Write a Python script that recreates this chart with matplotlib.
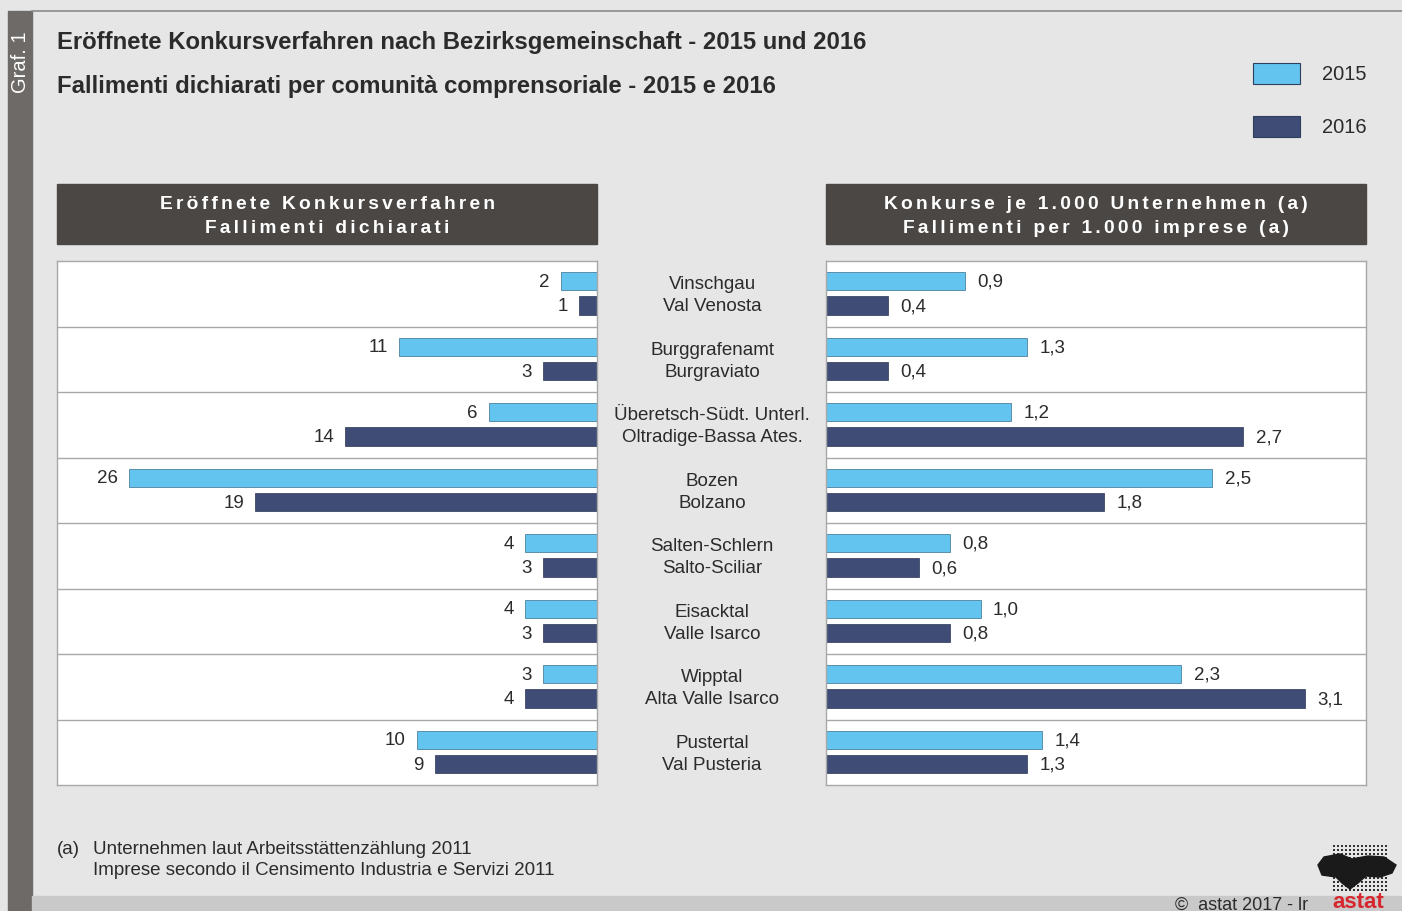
import matplotlib
matplotlib.use("Agg")
import matplotlib.pyplot as plt
from matplotlib.patches import Rectangle, Polygon
import numpy as np

plt.rcParams['font.family'] = ['Liberation Sans', 'DejaVu Sans']

# data
regions_de = ["Vinschgau", "Burggrafenamt", "Überetsch-Südt. Unterl.", "Bozen",
              "Salten-Schlern", "Eisacktal", "Wipptal", "Pustertal"]
regions_it = ["Val Venosta", "Burgraviato", "Oltradige-Bassa Ates.", "Bolzano",
              "Salto-Sciliar", "Valle Isarco", "Alta Valle Isarco", "Val Pusteria"]
fall_2015 = [2, 11, 6, 26, 4, 4, 3, 10]
fall_2016 = [1, 3, 14, 19, 3, 3, 4, 9]
rate_2015 = [0.9, 1.3, 1.2, 2.5, 0.8, 1.0, 2.3, 1.4]
rate_2016 = [0.4, 0.4, 2.7, 1.8, 0.6, 0.8, 3.1, 1.3]
years = ["2015", "2016"]

c15 = "#62c4ef"
c16 = "#3e4c76"
bgc = "#e6e6e6"
txt = "#2b2b2b"

W, H = 1402, 912
fig = plt.figure(figsize=(W / 100, H / 100), dpi=100, facecolor=bgc)


def rect(x0, y0, x1, y1):
    return [x0 / W, 1 - y1 / H, (x1 - x0) / W, (y1 - y0) / H]


# background drawing layer in pixel coords
bg = fig.add_axes([0, 0, 1, 1], zorder=0)
bg.set_xlim(0, W)
bg.set_ylim(H, 0)
bg.axis("off")
bg.add_patch(Rectangle((8, 12), 24, H - 12, color="#6d6a68"))
bg.plot([32, W], [12, 12], color="#8a8a8a", lw=1.2)
bg.add_patch(Rectangle((32, 897), W - 32, 15, color="#c9c9c9"))
bg.text(20, 62, "Graf. 1", rotation=90, color="white", fontsize=14.5,
        ha="center", va="center")

bg.text(57, 43, "Eröffnete Konkursverfahren nach Bezirksgemeinschaft - 2015 und 2016",
        fontsize=17.2, fontweight="bold", color=txt, va="center")
bg.text(57, 87, "Fallimenti dichiarati per comunità comprensoriale - 2015 e 2016",
        fontsize=17.2, fontweight="bold", color=txt, va="center")

# legend
for i, (y, c) in enumerate(zip([64, 117], [c15, c16])):
    bg.add_patch(Rectangle((1253, y), 47, 21, facecolor=c, edgecolor="#2f3f5f", lw=0.8))
    bg.text(1322, y + 10.5, years[i], fontsize=14.5, color=txt, va="center")


def spaced(s):
    return "\u200a\u200a".join(s)


# header boxes
headers = [("Eröffnete Konkursverfahren", "Fallimenti dichiarati"),
           ("Konkurse je 1.000 Unternehmen (a)", "Fallimenti per 1.000 imprese (a)")]
for (x0, x1), (l1, l2) in zip([(57, 597), (826, 1366)], headers):
    bg.add_patch(Rectangle((x0, 185), x1 - x0, 60, color="#4b4745"))
    xc = (x0 + x1) / 2
    bg.text(xc, 205, spaced(l1), color="white", fontsize=13.8, fontweight="bold",
            ha="center", va="center")
    bg.text(xc, 229, spaced(l2), color="white", fontsize=13.8, fontweight="bold",
            ha="center", va="center")

# footnote
bg.text(57, 850, "(a)", fontsize=13.5, color=txt, va="center")
bg.text(93, 850, "Unternehmen laut Arbeitsstättenzählung 2011", fontsize=13.5, color=txt, va="center")
bg.text(93, 871, "Imprese secondo il Censimento Industria e Servizi 2011", fontsize=13.5, color=txt, va="center")
bg.text(1308, 905, "©  astat 2017 - lr", fontsize=13, color=txt, va="center", ha="right")
bg.text(1358, 903, "astat", fontsize=16, color="#d8262e", fontweight="bold", va="center", ha="center")

# logo (dot grid with dark blob)
gx, gy = np.meshgrid(np.arange(1334, 1388, 4), np.arange(847, 894, 4))
bg.scatter(gx.ravel(), gy.ravel(), s=1.6, color="#333333", marker="s", lw=0)
blob = [(1318, 866), (1324, 858), (1340, 855), (1352, 860), (1368, 857),
        (1384, 858), (1396, 866), (1392, 874), (1380, 878), (1366, 877),
        (1358, 884), (1350, 890), (1342, 884), (1336, 878), (1322, 876)]
bg.add_patch(Polygon(blob, closed=True, color="#1a1a1a"))

# panels
n = len(regions_de)
pos = np.arange(n) + 0.5
off15, off16 = -0.19, 0.18
bh = 0.28

axL = fig.add_axes(rect(57, 262, 597, 786), zorder=1)
axR = fig.add_axes(rect(826, 262, 1366, 786), zorder=1)

for ax in (axL, axR):
    ax.set_facecolor("white")
    ax.set_ylim(n, 0)
    ax.set_xticks([])
    ax.set_yticks([])
    for s in ax.spines.values():
        s.set_color("#a8a8a8")
        s.set_linewidth(1)
    for k in range(1, n):
        ax.axhline(k, color="#a8a8a8", lw=1)

axL.set_xlim(30, 0)
axL.barh(pos + off15, fall_2015, height=bh, color=c15, edgecolor="#3a6e8c", lw=0.5)
axL.barh(pos + off16, fall_2016, height=bh, color=c16, edgecolor="#2a3555", lw=0.5)
for p, a, b in zip(pos, fall_2015, fall_2016):
    axL.annotate(str(a), (a, p + off15), xytext=(-8, 0), textcoords="offset points",
                 ha="right", va="center", fontsize=13.5, color=txt)
    axL.annotate(str(b), (b, p + off16), xytext=(-8, 0), textcoords="offset points",
                 ha="right", va="center", fontsize=13.5, color=txt)

axR.set_xlim(0, 3.495)
axR.barh(pos + off15, rate_2015, height=bh, color=c15, edgecolor="#3a6e8c", lw=0.5)
axR.barh(pos + off16, rate_2016, height=bh, color=c16, edgecolor="#2a3555", lw=0.5)


def fmt(v):
    return f"{v:.1f}".replace(".", ",")


for p, a, b in zip(pos, rate_2015, rate_2016):
    axR.annotate(fmt(a), (a, p + off15), xytext=(9, 0), textcoords="offset points",
                 ha="left", va="center", fontsize=13.5, color=txt)
    axR.annotate(fmt(b), (b, p + off16), xytext=(9, 0), textcoords="offset points",
                 ha="left", va="center", fontsize=13.5, color=txt)

# region names in the middle
row_h = (786 - 262) / n
for i in range(n):
    yc = 262 + row_h * (i + 0.5)
    bg.text(712, yc - 10, regions_de[i], fontsize=13.5, color=txt, ha="center", va="center")
    bg.text(712, yc + 12, regions_it[i], fontsize=13.5, color=txt, ha="center", va="center")

fig.savefig("out.png", dpi=100, facecolor=bgc)
